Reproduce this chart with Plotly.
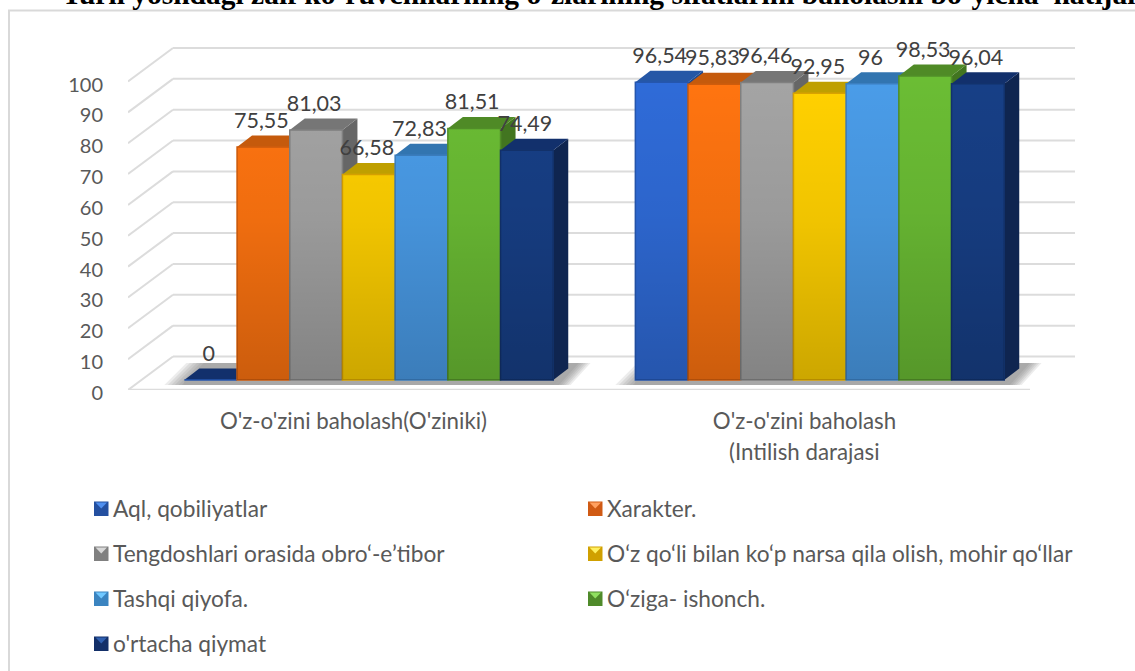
import plotly.graph_objects as go

# ---------- data ----------
CATEGORIES = ["O'z-o'zini baholash(O'ziniki)", "O'z-o'zini baholash"]
CATEGORY_SECOND_LINE = "(Intilish darajasi"
SERIES = ["Aql, qobiliyatlar", "Xarakter.", "Tengdoshlari orasida obro‘-e’tibor",
          "O‘z qo‘li bilan ko‘p narsa qila olish, mohir qo‘llar", "Tashqi qiyofa.",
          "O‘ziga- ishonch.", "o'rtacha qiymat"]
AQL = [0, 96.54]
XARAKTER = [75.55, 95.83]
TENGDOSH = [81.03, 96.46]
QOL = [66.58, 92.95]
TASHQI = [72.83, 96]
ISHONCH = [81.51, 98.53]
ORTACHA = [74.49, 96.04]
VALUES = [AQL, XARAKTER, TENGDOSH, QOL, TASHQI, ISHONCH, ORTACHA]
Y_TICKS = list(range(0, 101, 10))
TITLE = "Turli yoshdagi zaif ko‘ruvchilarning o‘zlarining sifatlarini baholashi bo‘yicha  natijalari"

# ---------- styles ----------
FRONT = ["#2f6bd8", "#ff7410", "#a4a4a4", "#ffd000", "#4a9ce8", "#6bbd34", "#173f86"]
EDGE = ["#2556ae", "#cf5c0c", "#808080", "#d9a200", "#3b7fc0", "#528f28", "#12326c"]
TOP = ["#2557a6", "#c55a0c", "#767676", "#bf9f00", "#3275b0", "#4f8a26", "#12306c"]
SIDE = ["#1f4a8e", "#a84c0a", "#666666", "#a38800", "#2a6496", "#427520", "#0f2550"]
SWATCH_LIGHT = ["#4f8fef", "#ffa060", "#d8d8d8", "#fff060", "#70c8ff", "#90e060", "#3060b0"]
SWATCH_MAIN = ["#2450a0", "#d05a14", "#808080", "#d0a000", "#3b84c0", "#4f8a2a", "#132f68"]
GRID = "#dcdcdc"
TICK = "#595959"
LABEL = "#404040"
FONT = "Lato"

W, H = 1135, 671
L, R, B, T = 128, 1075, 390, 47      # plot box, px
UX, UY = 451.0, 3.085                # px per category, px per value unit
FLOOR_DX, FLOOR_DY = 45 / UX, 33.5 / UY
BAR_W = 52.7 / UX
BAR_SHIFT = 15.3 / UX
BASE = 10 / UY
DX, DY = 15 / UX, 11.5 / UY
LABEL_UP = 24.5 / UY
LABEL_LEFT = 2 / UX
X0 = -0.5
X1 = X0 + (R - L) / UX
Y1 = (B - T) / UY


def poly(points):
    return "M" + " L".join(f"{x:.5f},{y:.4f}" for x, y in points) + " Z"


shapes = []
# frame, clipped by the page on the right and at the bottom
shapes.append(dict(type="rect", xref="paper", yref="paper", x0=9 / W, x1=1.2, y0=1 - 10.5 / H, y1=-0.2,
                   line=dict(color="#d9d9d9", width=2), layer="below"))
# back wall and side wall grid
for v in Y_TICKS:
    shapes.append(dict(type="line", xref="x", yref="y", x0=X0, y0=v, x1=X0 + FLOOR_DX, y1=v + FLOOR_DY,
                       line=dict(color=GRID, width=2), layer="below"))
    shapes.append(dict(type="line", xref="x", yref="y", x0=X0 + FLOOR_DX, y0=v + FLOOR_DY,
                       x1=X0 + FLOOR_DX + 2, y1=v + FLOOR_DY, line=dict(color=GRID, width=2), layer="below"))
shapes.append(dict(type="line", xref="x", yref="y", x0=X0, y0=0, x1=X0 + 2, y1=0,
                   line=dict(color=GRID, width=2.5), layer="below"))

n = len(SERIES)
# soft shadow under each group
for c in range(len(CATEGORIES)):
    left = c + BAR_SHIFT - n / 2 * BAR_W
    right = c + BAR_SHIFT + n / 2 * BAR_W
    low = BASE - 5 / UY
    high = BASE + 17 / UY
    for k in range(6):
        grow = (20 - k * 3.5) / UX
        shapes.append(dict(type="path", xref="x", yref="y", layer="below",
                           path=poly([(left - grow, low), (right + 2 * grow / 3 + 4 / UX, low),
                                      (right + 2 * grow / 3 + 24 / UX, high), (left - grow + 22 / UX, high)]),
                           fillcolor="rgba(110,110,110,0.13)", line=dict(width=0)))
    shapes.append(dict(type="path", xref="x", yref="y", layer="below",
                       path=poly([(left, low), (right, low), (right + 6 / UX, BASE), (left, BASE)]),
                       fillcolor="#a8a8a8", line=dict(width=0)))

# top and side faces, painted left to right
for c in range(len(CATEGORIES)):
    for i in range(n):
        v = VALUES[i][c]
        xl = c + BAR_SHIFT + (i - n / 2) * BAR_W
        xr = xl + BAR_W
        yt = BASE + v
        shapes.append(dict(type="path", xref="x", yref="y", layer="below",
                           path=poly([(xr, BASE), (xr + DX, BASE + DY), (xr + DX, yt + DY), (xr, yt)]),
                           fillcolor=SIDE[i], line=dict(width=0)))
        shapes.append(dict(type="path", xref="x", yref="y", layer="below",
                           path=poly([(xl, yt), (xr, yt), (xr + DX, yt + DY), (xl + DX, yt + DY)]),
                           fillcolor=TOP[-1] if v == 0 else TOP[i], line=dict(width=0)))

fig = go.Figure()
for i, name in enumerate(SERIES):
    fig.add_trace(go.Bar(name=name, x=[c + BAR_SHIFT for c in range(len(CATEGORIES))], y=VALUES[i],
                         base=BASE, width=BAR_W, offset=(i - n / 2) * BAR_W,
                         marker=dict(color=FRONT[i], line=dict(color=EDGE[i], width=1.5)),
                         showlegend=False))
# vertical darkening of the front faces
for i, name in enumerate(SERIES):
    xs, ys = [], []
    for c in range(len(CATEGORIES)):
        v = VALUES[i][c]
        if v == 0:
            continue
        xl = c + BAR_SHIFT + (i - n / 2) * BAR_W
        xs += [xl, xl + BAR_W, xl + BAR_W, xl, xl, None]
        ys += [BASE, BASE, BASE + v, BASE + v, BASE, None]
    fig.add_trace(go.Scatter(x=xs, y=ys, mode="lines", fill="toself", line=dict(width=0),
                             fillgradient=dict(type="vertical", start=BASE, stop=BASE + max(VALUES[i]),
                                               colorscale=[[0, "rgba(0,0,0,0.2)"], [0.55, "rgba(0,0,0,0.06)"],
                                                           [1, "rgba(0,0,0,0)"]]),
                             hoverinfo="skip", showlegend=False))
# data labels
for i, name in enumerate(SERIES):
    fig.add_trace(go.Scatter(
        x=[c + BAR_SHIFT + (i - n / 2 + 0.5) * BAR_W - LABEL_LEFT for c in range(len(CATEGORIES))],
        y=[BASE + v + LABEL_UP for v in VALUES[i]],
        text=[f"{v:g}".replace(".", ",") for v in VALUES[i]],
        mode="text", textposition="middle center", cliponaxis=False,
        textfont=dict(family=FONT, size=21.5, color=LABEL), hoverinfo="skip", showlegend=False))

annotations = [dict(text="<b>" + TITLE + "</b>", xref="paper", yref="paper", x=60 / W, y=1 + 6.5 / H,
                    xanchor="left", yanchor="middle",
                    showarrow=False, font=dict(family="Liberation Serif", size=29.5, color="#000000")),
               dict(text=CATEGORY_SECOND_LINE, xref="x", yref="paper", x=1, y=1 - 451 / H,
                    xanchor="center", yanchor="middle", showarrow=False, font=dict(family=FONT, size=22.3, color=TICK))]

# legend, two columns
COLS = [94, 588]
ROWS = [508.5, 553.5, 598.5, 643.5]
for i, name in enumerate(SERIES):
    px = COLS[i % 2]
    py = ROWS[i // 2]
    x0, x1 = px / W, (px + 14.5) / W
    y0, y1 = 1 - (py + 7.5) / H, 1 - (py - 7) / H
    shapes.append(dict(type="rect", xref="paper", yref="paper", x0=x0, x1=x1, y0=y0, y1=y1,
                       fillcolor=SWATCH_MAIN[i], line=dict(width=0), layer="above"))
    shapes.append(dict(type="path", xref="paper", yref="paper", layer="above",
                       path=poly([((px + 1.5) / W, 1 - (py - 6) / H), ((px + 13) / W, 1 - (py - 6) / H),
                                  ((px + 7.25) / W, 1 - py / H)]),
                       fillcolor=SWATCH_LIGHT[i], line=dict(width=0)))
    annotations.append(dict(text=name, xref="paper", yref="paper", x=(px + 16.5) / W, y=1 - (py - 0.5) / H,
                            xanchor="left", yanchor="middle", showarrow=False,
                            font=dict(family=FONT, size=22.7, color=TICK)))

fig.update_layout(
    width=W, height=H, margin=dict(l=0, r=0, t=0, b=0, autoexpand=False), paper_bgcolor="white",
    plot_bgcolor="rgba(0,0,0,0)",
    barmode="overlay", shapes=shapes, annotations=annotations, showlegend=False,
    xaxis=dict(domain=[L / W, R / W], range=[X0, X1], showgrid=False, zeroline=False, showline=False, automargin=False,
               tickmode="array", tickvals=list(range(len(CATEGORIES))), ticktext=CATEGORIES, ticks="outside",
               ticklen=11, tickcolor="rgba(0,0,0,0)", tickfont=dict(family=FONT, size=22.3, color=TICK)),
    yaxis=dict(domain=[1 - B / H, 1 - T / H], range=[0, Y1], showgrid=False, zeroline=False, showline=False, automargin=False,
               tickmode="array", tickvals=Y_TICKS, ticktext=[str(t) for t in Y_TICKS], ticks="outside",
               ticklen=20, tickcolor="rgba(0,0,0,0)", tickfont=dict(family=FONT, size=20, color=TICK),
               ticklabelshift=3),
)
fig.write_html("out.html", config=dict(displayModeBar=False, responsive=False),
               post_script="document.body.style.margin='0';document.body.style.overflow='hidden';")
